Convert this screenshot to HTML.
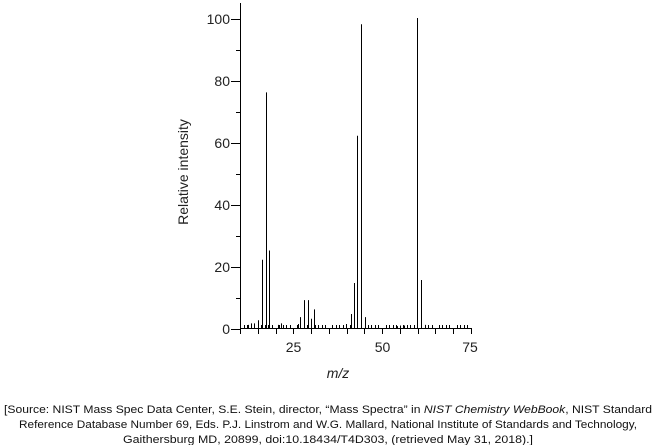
<!DOCTYPE html>
<html><head><meta charset="utf-8"><style>
html,body{margin:0;padding:0;background:#fff;}
svg{display:block;font-family:"Liberation Sans",Arial,sans-serif;}
</style></head><body>
<svg id="s" width="657" height="445" viewBox="0 0 657 445" xmlns="http://www.w3.org/2000/svg">
<g stroke="#000" stroke-width="1" fill="none" id="g">
<line x1="240.5" y1="3" x2="240.5" y2="329"/>
<line x1="240" y1="328.5" x2="471.5" y2="328.5"/>
</g>
<g font-size="14" fill="#222" text-anchor="end">
<text x="230" y="24">100</text>
<text x="230" y="86">80</text>
<text x="230" y="148">60</text>
<text x="230" y="210">40</text>
<text x="230" y="272">20</text>
<text x="230" y="334">0</text>
</g>
<g font-size="14" fill="#222" text-anchor="middle">
<text x="293.5" y="352">25</text>
<text x="382.5" y="352">50</text>
<text x="470" y="352">75</text>
</g>
<text x="338" y="378" font-size="14" font-style="italic" text-anchor="middle" fill="#222">m/z</text>
<text transform="translate(188,172) rotate(-90)" font-size="14" text-anchor="middle" fill="#222">Relative intensity</text>
<g font-size="11" fill="#111" text-anchor="middle">
<text x="328" y="413" textLength="648" lengthAdjust="spacingAndGlyphs">[Source: NIST Mass Spec Data Center, S.E. Stein, director, “Mass Spectra” in <tspan font-style="italic">NIST Chemistry WebBook</tspan>, NIST Standard</text>
<text x="328" y="428" textLength="618" lengthAdjust="spacingAndGlyphs">Reference Database Number 69, Eds. P.J. Linstrom and W.G. Mallard, National Institute of Standards and Technology,</text>
<text x="328" y="443" textLength="410" lengthAdjust="spacingAndGlyphs">Gaithersburg MD, 20899, doi:10.18434/T4D303, (retrieved May 31, 2018).]</text>
</g>
</svg>
<script>
var g=document.getElementById('g'),NS='http://www.w3.org/2000/svg';
function L(x1,y1,x2,y2){var l=document.createElementNS(NS,'line');l.setAttribute('x1',x1);l.setAttribute('y1',y1);l.setAttribute('x2',x2);l.setAttribute('y2',y2);g.appendChild(l);}
for(var v=0;v<=100;v+=10){var y=Math.round(328.5-v*3.1)+0.5;L(v%20==0?231:236,y,240,y);}
for(var m=10;m<=75;m++){var x=Math.round(240+(m-10)*3.55)+0.5;
 if(m%5==0){L(x,328,x,334);}else{L(x,328,x,325);}}
var p=[[248,1],[251,1.5],[254,1.5],[258,2.5],[262,22],[265.7,76],[269.3,25],[272,0.7],[278,1],[281,1.5],[297.7,1.3],[300,3.5],[304,9],[308,9],[311.3,3],[314.3,6],[318.3,0.8],[346.3,1.3],[351,4.5],[354.3,14.5],[357,62],[361,98],[365.3,3.5],[368.3,0.6],[397,0.6],[400,0.8],[404,0.8],[407.3,0.6],[417.3,100],[421.3,15.5],[425.3,1]];
p.forEach(function(q){var x=Math.round(q[0])+0.5;L(x,328,x,328-q[1]*3.1);});
</script>
</body></html>
